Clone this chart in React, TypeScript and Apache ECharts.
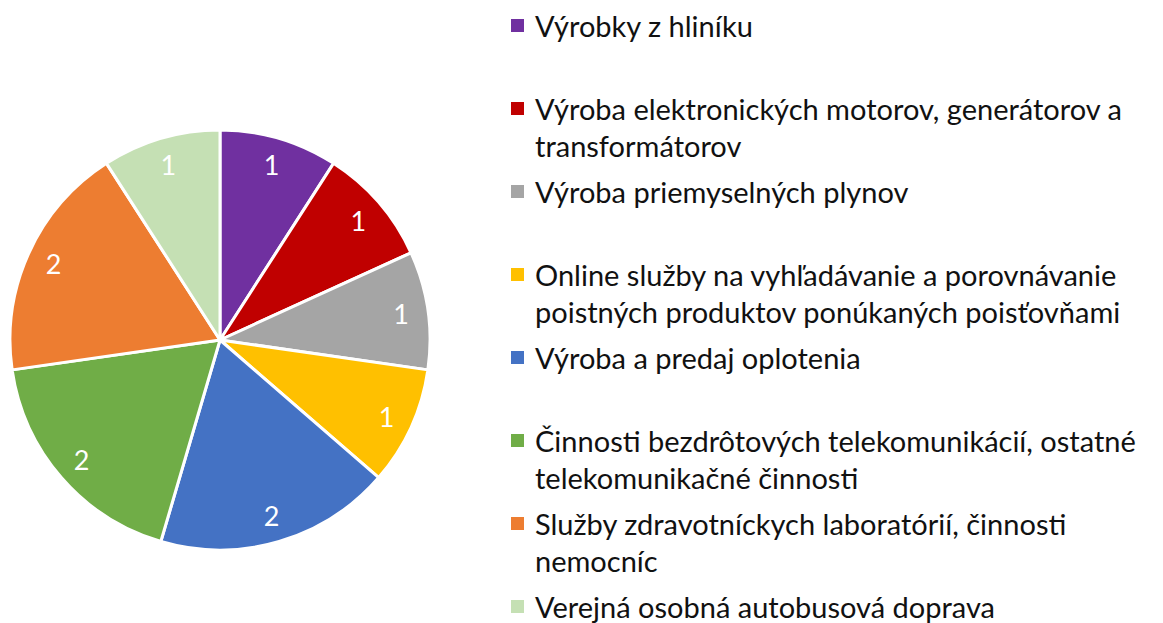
import React, { useEffect, useRef } from "react";
import * as echarts from "echarts";

const categories = [
  "Výrobky z hliníku",
  "Výroba elektronických motorov, generátorov a transformátorov",
  "Výroba priemyselných plynov",
  "Online služby na vyhľadávanie a porovnávanie poistných produktov ponúkaných poisťovňami",
  "Výroba a predaj oplotenia",
  "Činnosti bezdrôtových telekomunikácií, ostatné telekomunikačné činnosti",
  "Služby zdravotníckych laboratórií, činnosti nemocníc",
  "Verejná osobná autobusová doprava",
];

const legendLines = [
  ["Výrobky z hliníku"],
  ["Výroba elektronických motorov, generátorov a", "transformátorov"],
  ["Výroba priemyselných plynov"],
  ["Online služby na vyhľadávanie a porovnávanie", "poistných produktov ponúkaných poisťovňami"],
  ["Výroba a predaj oplotenia"],
  ["Činnosti bezdrôtových telekomunikácií, ostatné", "telekomunikačné činnosti"],
  ["Služby zdravotníckych laboratórií, činnosti", "nemocníc"],
  ["Verejná osobná autobusová doprava"],
];

const values = [1, 1, 1, 1, 2, 2, 2, 1];

const colors = [
  "#7030A0",
  "#C00000",
  "#A5A5A5",
  "#FFC000",
  "#4472C4",
  "#70AD47",
  "#ED7D31",
  "#C5E0B4",
];

const FONT = "Lato";
const FS = 29;

export default function App() {
  const ref = useRef<HTMLDivElement>(null);
  useEffect(() => {
    if (!ref.current) return;
    const chart = echarts.init(ref.current, undefined, { renderer: "svg" });
    const data = categories.map((name, i) => ({
      name,
      value: values[i],
      itemStyle: { color: colors[i] },
    }));
    const rich: Record<string, any> = {
      t: { fontSize: FS, lineHeight: 37, color: "#111", fontFamily: FONT },
      g: { width: 11, height: 13 },
      g2: { width: 24, height: 13 },
    };
    colors.forEach((c, i) => {
      rich["s" + i] = { width: 13, height: 13, backgroundColor: c };
    });
    chart.setOption({
      animation: false,
      color: colors,
      legend: {
        orient: "vertical",
        left: 506,
        top: 7,
        height: 800,
        padding: 0,
        itemGap: 9,
        icon: "none",
        itemWidth: 0,
        itemHeight: 0,
        selectedMode: false,
        data: categories,
        formatter: (name: string) => {
          const i = categories.indexOf(name);
          const lines = legendLines[i];
          let s = `{s${i}|}{g|}{t|${lines[0]}}`;
          if (lines[1]) s += `\n{g2|}{t|${lines[1]}}`;
          else s += `\n{t| }`;
          return s;
        },
        textStyle: { fontFamily: FONT, fontSize: FS, lineHeight: 37, rich },
      },
      series: [
        {
          type: "pie",
          center: [220, 340],
          radius: [0, 210],
          startAngle: 90,
          clockwise: true,
          data,
          label: { show: false },
          labelLine: { show: false },
          itemStyle: { borderColor: "#fff", borderWidth: 3 },
          emphasis: { disabled: true },
        },
        {
          type: "pie",
          center: [220, 340],
          radius: [150, 210],
          startAngle: 90,
          clockwise: true,
          silent: true,
          data: categories.map((name, i) => ({
            name,
            value: values[i],
            itemStyle: { color: "transparent" },
          })),
          itemStyle: { color: "transparent", borderWidth: 0 },
          label: {
            show: true,
            position: "inside",
            formatter: "{c}",
            color: "#fff",
            fontSize: 27,
            fontFamily: FONT,
            textBorderWidth: 0,
          },
          labelLine: { show: false },
          emphasis: { disabled: true },
        },
      ],
    });
    return () => chart.dispose();
  }, []);
  return (
    <div
      ref={ref}
      style={{ position: "fixed", left: 0, top: 0, width: 1163, height: 623, background: "#fff" }}
    />
  );
}
